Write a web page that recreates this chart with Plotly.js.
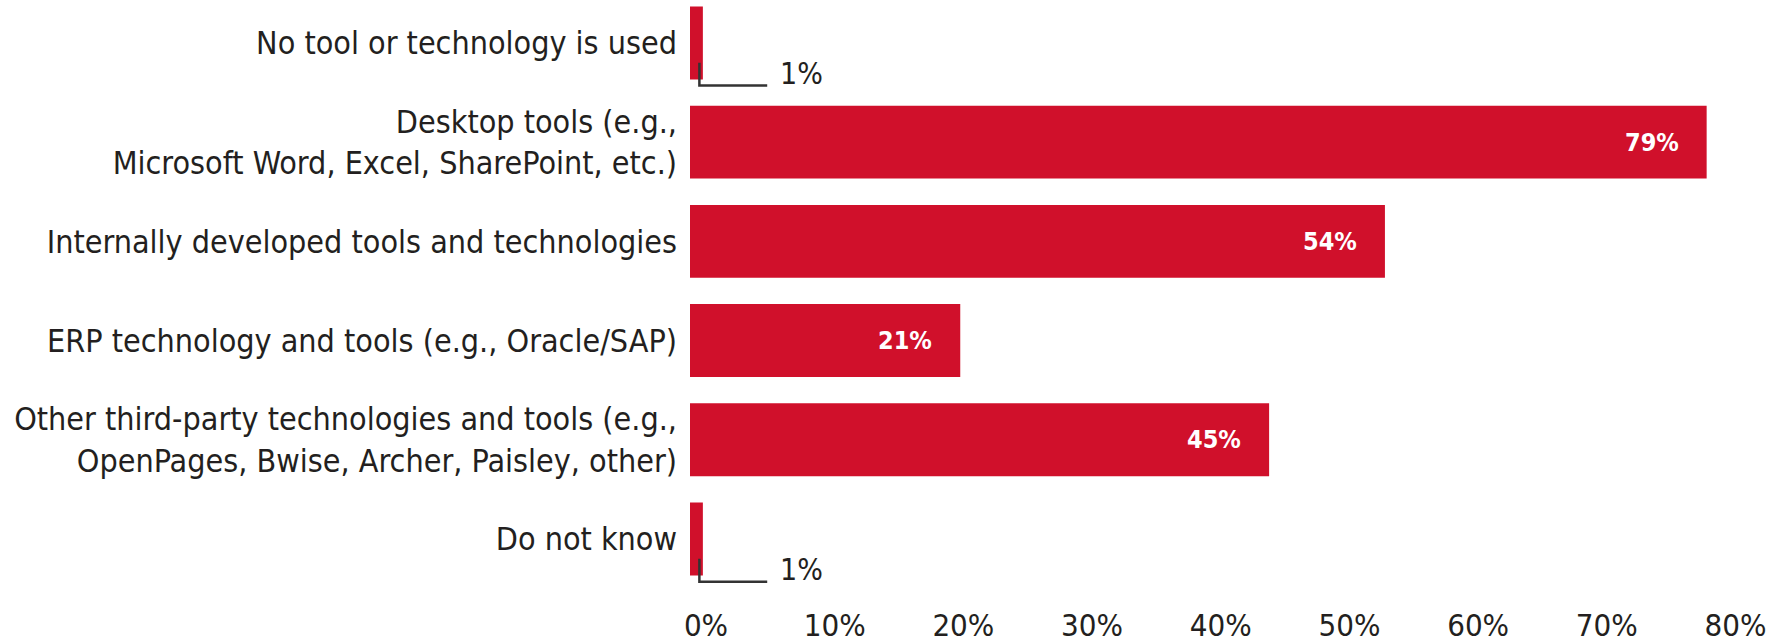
<!DOCTYPE html>
<html><head><meta charset="utf-8">
<script src="https://cdn.plot.ly/plotly-3.0.1.min.js"></script>
<style>html,body{margin:0;padding:0;background:#fff}#chart{width:1781px;height:643px}</style>
</head><body><div id="chart"></div>
<script>
const categories = [
  "No tool or technology is used",
  "Desktop tools (e.g.,<br>Microsoft Word, Excel, SharePoint, etc.)",
  "Internally developed tools and technologies",
  "ERP technology and tools (e.g., Oracle/SAP)",
  "Other third-party technologies and tools (e.g.,<br>OpenPages, Bwise, Archer, Paisley, other)",
  "Do not know"
];
const values = [1, 79, 54, 21, 45, 1];
const tickVals = [0, 10, 20, 30, 40, 50, 60, 70, 80];
const tickText = ["0%", "10%", "20%", "30%", "40%", "50%", "60%", "70%", "80%"];

const FONT = "'DejaVu Sans Condensed', 'Liberation Sans', sans-serif";
const RED = "#D0102B";
const TXT = "#231f20";

const idx = categories.map((c, i) => i);
const annotations = [];
const shapes = [];
values.forEach((v, i) => {
  if (v >= 10) {
    annotations.push({x: v, y: i, xref: 'x', yref: 'y', text: v + '%', showarrow: false,
      xanchor: 'right', xshift: -26, font: {family: FONT, size: 25, color: '#fff', weight: 600}});
  } else {
    shapes.push({type: 'path', xref: 'x', yref: 'y',
      path: `M ${v*0.73} ${i+0.2} L ${v*0.73} ${i+0.43} L 6 ${i+0.43}`,
      line: {color: '#333', width: 2.5}});
    annotations.push({x: 6.8, y: i + 0.31, xref: 'x', yref: 'y', text: v + '%', showarrow: false,
      xanchor: 'left', font: {family: FONT, size: 30, color: TXT}});
  }
});

const trace = {
  type: 'bar', orientation: 'h', x: values, y: idx,
  marker: {color: RED, line: {width: 0}},
  hoverinfo: 'none'
};

const layout = {
  width: 1781, height: 643,
  margin: {l: 690, r: 10, t: 0, b: 43},
  paper_bgcolor: '#fff', plot_bgcolor: '#fff',
  bargap: 0.265, showlegend: false,
  xaxis: {range: [0, 84], tickvals: tickVals, ticktext: tickText, showgrid: false, zeroline: false,
    showline: false, ticks: '', ticklabelshift: 16, ticklabelstandoff: 4,
    tickfont: {family: FONT, size: 31, color: TXT}},
  yaxis: {range: [5.615, -0.433], autorange: false, tickvals: idx, ticktext: categories,
    showgrid: false, zeroline: false, showline: false, ticks: '', ticklabelstandoff: 12,
    tickfont: {family: FONT, size: 32, color: TXT}},
  shapes: shapes, annotations: annotations
};
Plotly.newPlot('chart', [trace], layout, {displayModeBar: false, staticPlot: true});
</script></body></html>
